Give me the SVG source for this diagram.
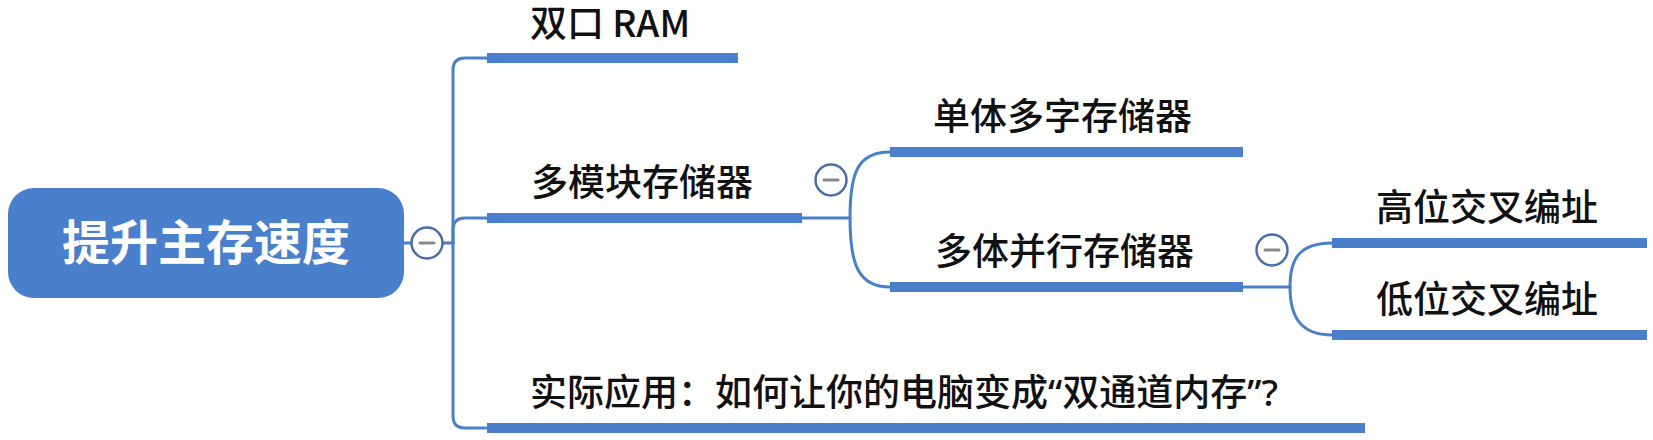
<svg xmlns="http://www.w3.org/2000/svg" width="1653" height="440" viewBox="0 0 1653 440">
<style>
.line{fill:none;stroke:#4a7fcb;stroke-width:3;stroke-linecap:round}
.bar{fill:#4a7fcb}
.t{font-family:"Noto Sans CJK SC","Noto Sans",sans-serif;font-size:37px;font-weight:500;fill:#111}
.lat{font-family:"Noto Sans","Noto Sans CJK SC",sans-serif}
.root-t{font-family:"Noto Sans CJK SC","Noto Sans",sans-serif;font-size:48px;font-weight:bold;fill:#fff}
.tog{fill:#fff;stroke:#4a6fa8;stroke-width:2.5}
.minus{stroke:#888;stroke-width:3;stroke-linecap:round}
</style>
<rect width="1653" height="440" fill="#fff"/>
<g id="connectors">
<path class="line" d="M403,243 H411"/>
<path class="line" d="M443,243 H453"/>
<path class="line" d="M453,243 V70 Q453,58 465,58 H487"/>
<path class="line" d="M453,243 V230 Q453,218 465,218 H487"/>
<path class="line" d="M453,243 V416 Q453,428 465,428 H487"/>
<path class="line" d="M802,218 H850"/>
<path class="line" d="M850,218 C850,172 858,152 890,152"/>
<path class="line" d="M850,218 C850,264 858,287 890,287"/>
<path class="line" d="M1243,287 H1290"/>
<path class="line" d="M1290,287 C1290,258 1300,243 1332,243"/>
<path class="line" d="M1290,287 C1290,316 1300,335 1332,335"/>
</g>
<g id="root">
<rect x="8" y="188" width="396" height="110" rx="26" fill="#4a7fcb"/>
<text class="root-t" x="206" y="260" text-anchor="middle">提升主存速度</text>
</g>
<g id="toggle-root">
<circle class="tog" cx="427" cy="243" r="15.5"/>
<path class="minus" d="M420,243 H434"/>
</g>
<g id="node-dual-port">
<rect class="bar" x="487" y="53" width="251" height="10"/>
<text class="t" x="530" y="37">双口 RAM</text>
</g>
<g id="node-multi-module">
<rect class="bar" x="487" y="213" width="315" height="10"/>
<text class="t" x="531" y="196">多模块存储器</text>
</g>
<g id="toggle-multi-module">
<circle class="tog" cx="831" cy="180" r="15.5"/>
<path class="minus" d="M824,180 H838"/>
</g>
<g id="node-single-multiword">
<rect class="bar" x="890" y="147" width="353" height="10"/>
<text class="t" x="933" y="130">单体多字存储器</text>
</g>
<g id="node-multi-bank">
<rect class="bar" x="890" y="282" width="353" height="10"/>
<text class="t" x="935" y="265">多体并行存储器</text>
</g>
<g id="toggle-multi-bank">
<circle class="tog" cx="1272" cy="250" r="15.5"/>
<path class="minus" d="M1265,250 H1279"/>
</g>
<g id="node-high-interleave">
<rect class="bar" x="1332" y="238" width="315" height="10"/>
<text class="t" x="1376" y="221">高位交叉编址</text>
</g>
<g id="node-low-interleave">
<rect class="bar" x="1332" y="330" width="315" height="10"/>
<text class="t" x="1376" y="313">低位交叉编址</text>
</g>
<g id="node-practice">
<rect class="bar" x="487" y="423" width="878" height="10"/>
<text class="t" x="530" y="406">实际应用：如何让你的电脑变成<tspan class="lat">“</tspan>双通道内存<tspan class="lat">”?</tspan></text>
</g>
</svg>
